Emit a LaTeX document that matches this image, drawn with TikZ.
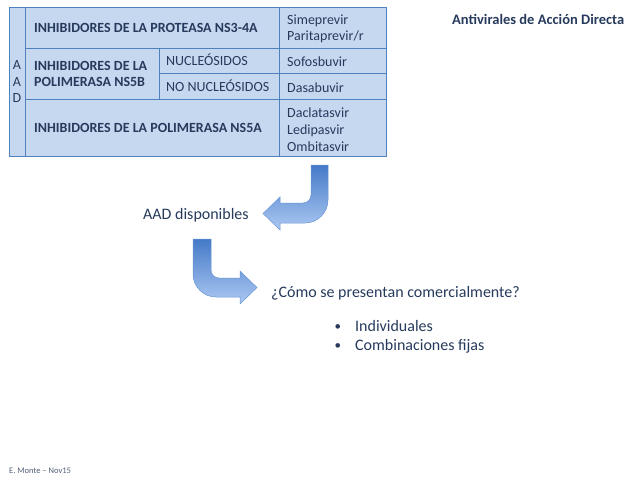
\documentclass[tikz,border=0pt]{standalone}
\usepackage{fontspec}
\setmainfont{Carlito}
\definecolor{tblfill}{RGB}{198,215,240}
\definecolor{tblline}{RGB}{79,129,189}
\definecolor{txt}{RGB}{38,58,92}
\definecolor{arrtop}{RGB}{68,122,200}
\definecolor{arrbot}{RGB}{172,200,242}
\definecolor{arredge}{RGB}{105,150,212}
\definecolor{foot}{RGB}{80,95,120}
\begin{document}
\begin{tikzpicture}[x=1pt,y=-1pt,
  cell/.style={anchor=base west,inner sep=0pt,text=txt,font=\fontsize{14}{16.5}\selectfont},
  head/.style={cell,font=\fontsize{14}{16.5}\selectfont\bfseries},
  body/.style={anchor=base west,inner sep=0pt,text=txt,font=\fontsize{16}{19.5}\selectfont},
  gridline/.style={draw=tblline,line width=0.9pt},
  bentarrow/.style={top color=arrtop,bottom color=arrbot,draw=arredge,line width=0.5pt}]
\useasboundingbox (0,0) rectangle (638,479);
% table
\fill[tblfill] (9,7) rectangle (386,156);
\draw[gridline] (9,7) rectangle (386,156);
\draw[gridline] (25,7) -- (25,156);
\draw[gridline] (25,48) -- (386,48);
\draw[gridline] (159,73) -- (386,73);
\draw[gridline] (25,99) -- (386,99);
\draw[gridline] (159,48) -- (159,99);
\draw[gridline] (279,7) -- (279,156);
% AAD column
\node[cell,anchor=base] (a1) at (17,69.5) {A};
\node[cell,anchor=base] (a2) at (17,86) {A};
\node[cell,anchor=base] (a3) at (17,102.5) {D};
% headings
\node[head] (ns3) at (34,32) {INHIBIDORES DE LA PROTEASA NS3-4A};
\node[head] (ns5ba) at (34,70) {INHIBIDORES DE LA};
\node[head] (ns5bb) at (34,86.5) {POLIMERASA NS5B};
\node[head] (ns5a) at (34,132) {INHIBIDORES DE LA POLIMERASA NS5A};
\node[cell] (nuc) at (166,65.5) {NUCLEÓSIDOS};
\node[cell] (nonuc) at (166,91) {NO NUCLEÓSIDOS};
% drugs
\node[cell] (d1) at (287,24.5) {Simeprevir};
\node[cell] (d2) at (287,41) {Paritaprevir/r};
\node[cell] (d3) at (287,66) {Sofosbuvir};
\node[cell] (d4) at (287,92) {Dasabuvir};
\node[cell] (d5) at (287,117.5) {Daclatasvir};
\node[cell] (d6) at (287,134.5) {Ledipasvir};
\node[cell] (d7) at (287,151) {Ombitasvir};
% title
\node[anchor=base west,inner sep=0pt,text=txt,font=\fontsize{14.5}{16}\selectfont\bfseries] (title) at (452,24) {Antivirales de Acción Directa};
% arrows
\shadedraw[bentarrow] (311,165) -- (328,165) -- (328,200)
  .. controls (328,212.7) and (317.7,223) .. (305,223) -- (280,223) -- (280,230)
  -- (263,213.5) -- (280,197) -- (280,203) -- (303,203)
  .. controls (307.4,203) and (311,199.4) .. (311,195) -- cycle;
\shadedraw[bentarrow] (193,239) -- (211,239) -- (211,270)
  .. controls (211,274.4) and (214.6,278) .. (219,278) -- (240,278) -- (240,271)
  -- (257,287.5) -- (240,304) -- (240,297) -- (216,297)
  .. controls (203.3,297) and (193,286.7) .. (193,274) -- cycle;
% body texts
\node[body] (aadd) at (143,219) {AAD disponibles};
\node[body] (como) at (271,297) {¿Cómo se presentan comercialmente?};
\node[body,font=\fontsize{13}{16}\selectfont] (b1) at (334.5,330) {•};
\node[body] (ind) at (355,331) {Individuales};
\node[body,font=\fontsize{13}{16}\selectfont] (b2) at (334.5,349) {•};
\node[body] (comb) at (355,350) {Combinaciones fijas};
% footer
\node[anchor=base west,inner sep=0pt,text=foot,font=\fontsize{8.5}{10}\selectfont] (footer) at (9,473.5) {E. Monte – Nov15};
\end{tikzpicture}
\end{document}
